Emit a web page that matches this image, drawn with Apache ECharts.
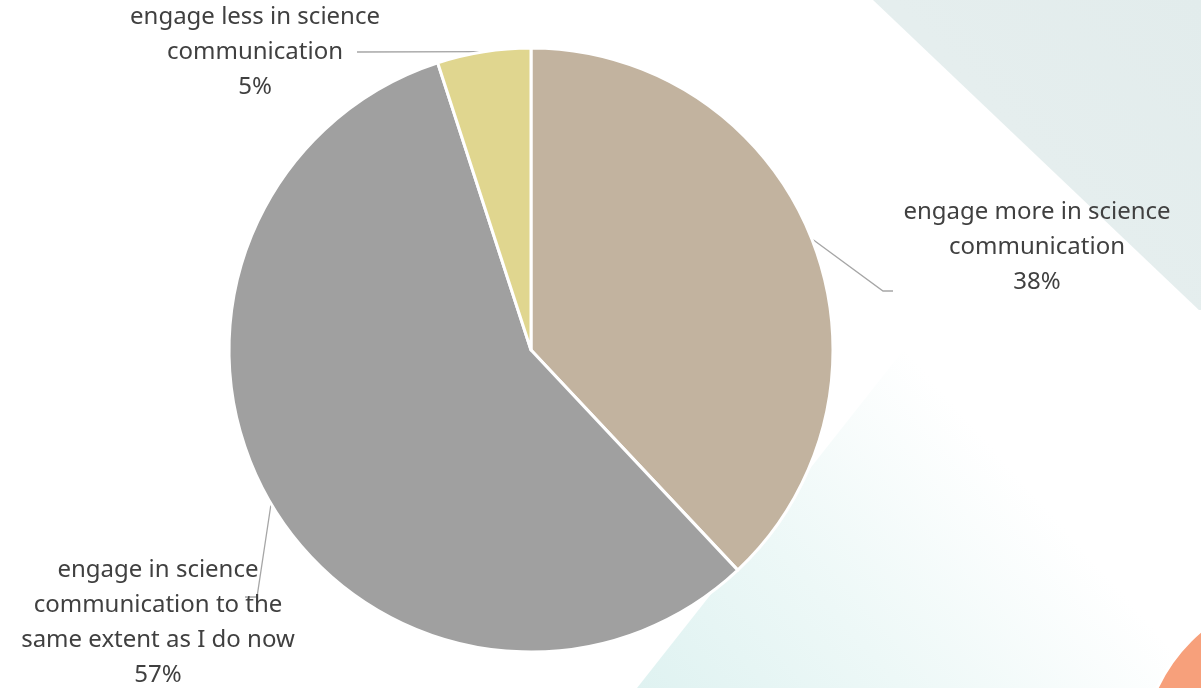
<!DOCTYPE html>
<html>
<head>
<meta charset="utf-8">
<script src="https://cdn.jsdelivr.net/npm/echarts@6/dist/echarts.min.js"></script>
<style>
  html, body { margin: 0; padding: 0; background: #ffffff; }
  #chart { width: 1201px; height: 688px; }
</style>
</head>
<body>
<div id="chart"></div>
<script>
// Survey answers: how respondents would engage in science communication
const categories = [
  'engage more in science\ncommunication',
  'engage in science\ncommunication to the\nsame extent as I do now',
  'engage less in science\ncommunication'
];
const shares = [38, 57, 5];
const sliceColors = ['#c2b39f', '#a0a0a0', '#e0d68f'];

// Label placement: text centre x, top y, and the leader's path after the slice anchor
const labelPlacement = [
  { cx: 1037, top: 195, path: [[883, 291], [893, 291]] },
  { cx: 158, top: 553, path: [[257, 597], [245, 597]] },
  { cx: 255, top: 0, path: [[358, 52], [357, 52]] }
];

const chart = echarts.init(document.getElementById('chart'), null, { renderer: 'canvas' });

const option = {
  backgroundColor: '#ffffff',
  animation: false,
  graphic: [
    // pale band in the top-right corner
    {
      type: 'polygon', z: -10, silent: true,
      shape: { points: [[873, 0], [1201, 0], [1201, 312]] },
      style: {
        fill: {
          type: 'linear', x: 1, y: 0, x2: 0, y2: 1,
          colorStops: [{ offset: 0, color: '#e2ecec' }, { offset: 1, color: '#e8f0f0' }]
        }
      }
    },
    // soft teal panel fading toward the upper right
    {
      type: 'polygon', z: -10, silent: true,
      shape: { points: [[637, 688], [935, 310], [1201, 310], [1201, 688]] },
      style: {
        fill: {
          type: 'linear', x: 0, y: 1, x2: 0.75, y2: 0,
          colorStops: [
            { offset: 0, color: '#dff2f1' },
            { offset: 0.35, color: '#edf8f7' },
            { offset: 0.75, color: '#ffffff' },
            { offset: 1, color: '#ffffff' }
          ]
        }
      }
    },
    // orange corner accent
    {
      type: 'circle', z: -9, silent: true,
      shape: { cx: 1310, cy: 760, r: 169 },
      style: { fill: '#f7a07b', stroke: '#ffffff', lineWidth: 3 }
    }
  ],
  series: [
    {
      type: 'pie',
      center: [531, 350],
      radius: 302,
      startAngle: 90,
      clockwise: true,
      avoidLabelOverlap: false,
      data: categories.map((name, i) => ({
        name: name,
        value: shares[i],
        itemStyle: { color: sliceColors[i] }
      })),
      itemStyle: { borderColor: '#ffffff', borderWidth: 3 },
      label: {
        show: true,
        position: 'outside',
        formatter: '{b}\n{c}%',
        fontFamily: 'Noto Sans',
        fontSize: 24,
        lineHeight: 35,
        color: '#404040',
        align: 'center'
      },
      labelLine: {
        show: true,
        length: 20,
        length2: 20,
        lineStyle: { color: '#a6a6a6', width: 1.3 }
      },
      labelLayout: function (params) {
        const p = labelPlacement[params.dataIndex];
        const anchor = params.labelLinePoints ? params.labelLinePoints[0] : null;
        const res = {
          x: p.cx,
          y: p.top,
          align: 'center',
          verticalAlign: 'top'
        };
        if (anchor) {
          res.labelLinePoints = [anchor].concat(p.path);
        }
        return res;
      }
    }
  ]
};

chart.setOption(option);
</script>
</body>
</html>
